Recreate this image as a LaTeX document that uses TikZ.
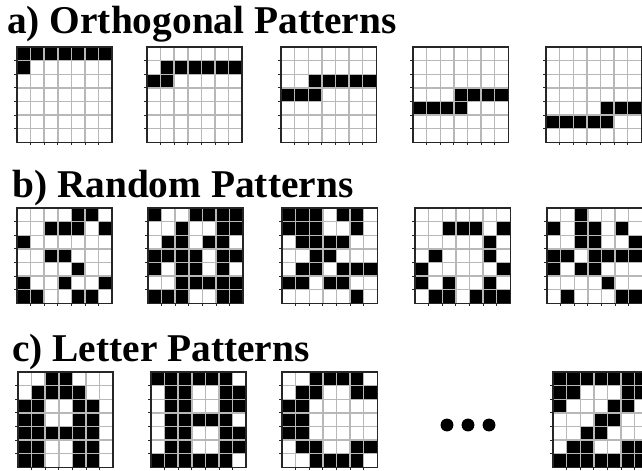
\documentclass[tikz,border=0pt]{standalone}
\usepackage{fontspec}
\setmainfont{Liberation Serif}
\def\sel{13.6}
\tikzset{
  judul/.style={anchor=base west, inner sep=0pt, font=\fontsize{33.6}{40}\selectfont\bfseries},
  garis/.style={draw=black!28, line width=1.2pt},
  bingkai/.style={draw=black!85, line width=1.2pt},
  tanda/.style={draw=black!85, line width=0.8pt}
}
% #1 x, #2 y (pojok kiri atas), #3 baris-baris pola
\newcommand{\kisi}[3]{%
  \begin{scope}[shift={(#1,#2)}]
    \fill[white] (0,0) rectangle (7*\sel,7*\sel);
    \foreach \baris [count=\j from 0] in {#3} {
      \foreach \v [count=\i from 0] in \baris {
        \ifnum\v=1 \fill[black] (\i*\sel,\j*\sel) rectangle ++(\sel,\sel); \fi
      }
    }
    \foreach \k in {1,...,6} {
      \draw[garis] (\k*\sel,0) -- (\k*\sel,7*\sel);
      \draw[garis] (0,\k*\sel) -- (7*\sel,\k*\sel);
      \draw[tanda] (0,\k*\sel) -- ++(-3,0);
      \draw[tanda] (\k*\sel,7*\sel) -- ++(0,3);
    }
    \draw[bingkai] (0,0) rectangle (7*\sel,7*\sel);
  \end{scope}}
\begin{document}
\begin{tikzpicture}[x=0.03cm, y=-0.03cm]
  \useasboundingbox (0,0) rectangle (642,470);
  % a) pola ortogonal
  \node[judul] (judul-a) at (7,33) {a) Orthogonal Patterns};
  \kisi{17}{47}{{1,1,1,1,1,1,1},{1,0,0,0,0,0,0},{0,0,0,0,0,0,0},{0,0,0,0,0,0,0},{0,0,0,0,0,0,0},{0,0,0,0,0,0,0},{0,0,0,0,0,0,0}}
  \kisi{147}{47}{{0,0,0,0,0,0,0},{0,1,1,1,1,1,1},{1,1,0,0,0,0,0},{0,0,0,0,0,0,0},{0,0,0,0,0,0,0},{0,0,0,0,0,0,0},{0,0,0,0,0,0,0}}
  \kisi{281}{47}{{0,0,0,0,0,0,0},{0,0,0,0,0,0,0},{0,0,1,1,1,1,1},{1,1,1,0,0,0,0},{0,0,0,0,0,0,0},{0,0,0,0,0,0,0},{0,0,0,0,0,0,0}}
  \kisi{413}{47}{{0,0,0,0,0,0,0},{0,0,0,0,0,0,0},{0,0,0,0,0,0,0},{0,0,0,1,1,1,1},{1,1,1,1,0,0,0},{0,0,0,0,0,0,0},{0,0,0,0,0,0,0}}
  \kisi{546}{47}{{0,0,0,0,0,0,0},{0,0,0,0,0,0,0},{0,0,0,0,0,0,0},{0,0,0,0,0,0,0},{0,0,0,0,1,1,1},{1,1,1,1,1,0,0},{0,0,0,0,0,0,0}}
  % b) pola acak
  \node[judul] (judul-b) at (12,197) {b) Random Patterns};
  \kisi{17}{208}{{0,0,0,0,1,1,0},{0,0,1,1,1,0,1},{1,0,0,0,0,0,0},{0,0,1,1,0,0,0},{0,0,0,0,1,0,0},{1,0,0,1,0,0,1},{1,1,0,0,1,1,0}}
  \kisi{148}{208}{{1,0,0,1,1,1,1},{0,0,1,0,0,1,1},{0,1,1,0,1,1,0},{1,1,1,1,0,1,1},{1,0,1,1,0,1,0},{0,0,1,1,1,1,1},{1,1,1,0,0,1,1}}
  \kisi{282}{208}{{1,1,1,0,1,1,0},{1,1,1,0,0,1,0},{0,1,1,1,1,0,0},{0,0,1,1,0,0,0},{0,1,1,0,1,1,1},{1,1,0,1,1,0,0},{0,0,0,0,0,1,0}}
  \kisi{415}{208}{{0,0,0,0,0,0,0},{0,0,1,1,1,0,1},{0,0,0,0,0,1,0},{0,1,0,0,0,1,0},{1,0,0,0,0,0,1},{1,0,1,0,0,1,0},{0,1,1,0,1,1,1}}
  \kisi{547}{208}{{0,0,1,0,0,0,0},{1,0,1,1,0,1,0},{0,0,1,1,0,0,1},{1,1,0,1,1,1,1},{1,0,1,1,0,0,0},{0,0,0,0,1,0,0},{0,1,0,0,0,1,1}}
  % c) pola huruf
  \node[judul] (judul-c) at (12,361) {c) Letter Patterns};
  \kisi{18}{372}{{0,0,1,1,0,0,0},{0,1,1,1,1,0,0},{1,1,0,0,1,1,0},{1,1,0,0,1,1,0},{1,1,1,1,1,1,0},{1,1,0,0,1,1,0},{1,1,0,0,1,1,0}}
  \kisi{151}{372}{{1,1,1,1,1,1,0},{0,1,1,0,0,1,1},{0,1,1,0,0,1,1},{0,1,1,1,1,1,0},{0,1,1,0,0,1,1},{0,1,1,0,0,1,1},{1,1,1,1,1,1,0}}
  \kisi{282}{372}{{0,0,1,1,1,1,0},{0,1,1,0,0,1,1},{1,1,0,0,0,0,0},{1,1,0,0,0,0,0},{1,1,0,0,0,0,0},{0,1,1,0,0,1,1},{0,0,1,1,1,1,0}}
  \fill (447,425) circle (5.5pt) (468,425) circle (5.5pt) (489,425) circle (5.5pt);
  \kisi{553}{372}{{1,1,1,1,1,1,1},{1,1,0,0,0,1,1},{1,0,0,0,1,1,0},{0,0,0,1,1,0,0},{0,0,1,1,0,0,0},{0,1,1,0,0,1,1},{1,1,1,1,1,1,1}}
\end{tikzpicture}
\end{document}
